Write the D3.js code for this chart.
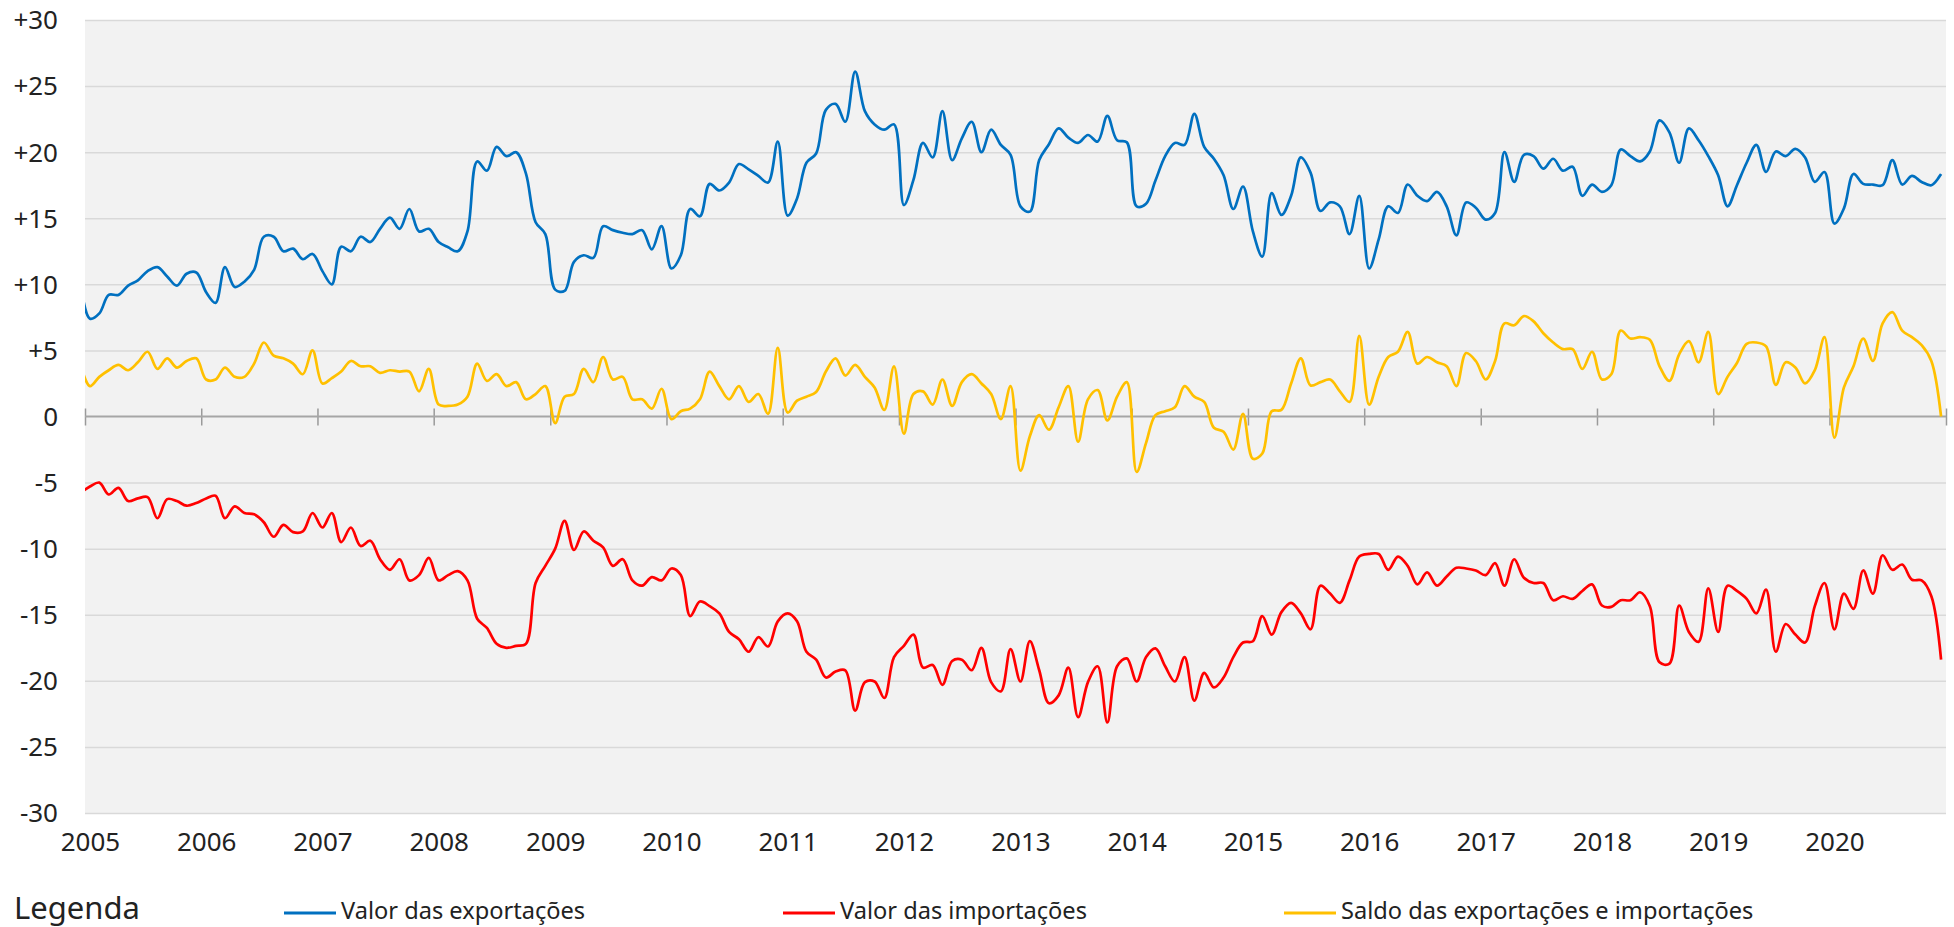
<!DOCTYPE html>
<html>
<head>
<meta charset="utf-8">
<script src="https://cdn.jsdelivr.net/npm/d3@7"></script>
<style>
  html, body { margin: 0; padding: 0; background: #fff; }
  svg { display: block; }
  text { font-family: "Noto Sans", "DejaVu Sans", sans-serif; fill: #222; }
</style>
</head>
<body>
<svg id="chart" width="1954" height="927"></svg>
<script>
// ---- Data (first value = Dec 2004, then Jan 2005 ... Dec 2020) ----
const exportsValues = [10.2,
  7.4, 7.8, 9.2, 9.2, 9.9, 10.3, 11.0, 11.3, 10.6, 9.9, 10.8, 10.9,
  9.4, 8.6, 11.3, 9.8, 10.2, 11.1, 13.6, 13.6, 12.5, 12.7, 11.9, 12.3,
  11.0, 10.0, 12.85, 12.5, 13.6, 13.2, 14.2, 15.05, 14.2, 15.7, 14.0, 14.2,
  13.2, 12.8, 12.5, 14.0, 19.3, 18.6, 20.4, 19.7, 20.0, 18.4, 14.7, 13.8,
  9.6, 9.5, 11.7, 12.2, 12.0, 14.4, 14.1, 13.9, 13.8, 14.1, 12.65, 14.4,
  11.2, 12.2, 15.7, 15.15, 17.6, 17.1, 17.7, 19.1, 18.7, 18.2, 17.7, 20.8,
  15.2, 16.5, 19.2, 19.9, 23.2, 23.65, 22.3, 26.1, 23.1, 22.1, 21.7, 22.1,
  16.0, 17.9, 20.7, 19.6, 23.1, 19.4, 21.05, 22.3, 20.0, 21.7, 20.55, 19.8,
  15.9, 15.5, 19.4, 20.6, 21.8, 21.1, 20.7, 21.3, 20.8, 22.75, 20.9, 20.75,
  15.9, 16.1, 17.85, 19.7, 20.7, 20.55, 22.9, 20.4, 19.5, 18.25, 15.7, 17.4,
  14.0, 12.1, 16.9, 15.25, 16.7, 19.6, 18.45, 15.55, 16.2, 15.9, 13.8, 16.7,
  11.2, 13.4, 15.9, 15.4, 17.55, 16.7, 16.3, 17.0, 15.9, 13.7, 16.2, 15.8,
  14.9, 15.4, 20.0, 17.75, 19.8, 19.7, 18.75, 19.5, 18.6, 18.9, 16.7, 17.55,
  17.0, 17.5, 20.2, 19.7, 19.3, 20.05, 22.4, 21.5, 19.2, 21.8, 20.9, 19.7,
  18.25, 15.9, 17.5, 19.2, 20.55, 18.5, 20.05, 19.7, 20.25, 19.6, 17.75, 18.5,
  14.6, 15.75, 18.35, 17.6, 17.55, 17.5, 19.4, 17.55, 18.2, 17.75, 17.5, 18.35
];
const importsValues = [-5.8,
  -5.3, -5.0, -5.9, -5.4, -6.4, -6.2, -6.1, -7.7, -6.25, -6.4, -6.75, -6.55,
  -6.2, -6.0, -7.7, -6.8, -7.3, -7.4, -8.0, -9.1, -8.2, -8.75, -8.7, -7.3,
  -8.4, -7.3, -9.5, -8.4, -9.8, -9.4, -10.8, -11.6, -10.8, -12.4, -12.0, -10.7,
  -12.4, -12.0, -11.7, -12.4, -15.3, -16.0, -17.2, -17.5, -17.35, -17.2, -12.6, -11.3,
  -10.0, -7.9, -10.1, -8.7, -9.4, -9.9, -11.3, -10.8, -12.4, -12.8, -12.15, -12.4,
  -11.5, -12.0, -15.1, -14.0, -14.35, -14.9, -16.3, -16.85, -17.8, -16.7, -17.4, -15.5,
  -14.9, -15.5, -17.8, -18.4, -19.75, -19.3, -19.2, -22.25, -20.1, -20.05, -21.3, -18.2,
  -17.35, -16.5, -19.0, -18.8, -20.3, -18.5, -18.4, -19.2, -17.5, -20.1, -20.8, -17.6,
  -20.05, -17.0, -19.2, -21.7, -21.1, -19.0, -22.75, -20.1, -18.9, -23.15, -18.9, -18.3,
  -20.05, -18.2, -17.55, -18.9, -20.05, -18.2, -21.5, -19.4, -20.5, -19.75, -18.2, -17.1,
  -17.0, -15.1, -16.5, -14.8, -14.1, -14.9, -16.1, -12.8, -13.4, -14.1, -12.4, -10.6,
  -10.4, -10.4, -11.6, -10.6, -11.3, -12.7, -11.8, -12.8, -12.1, -11.45, -11.5, -11.65,
  -12.0, -11.1, -12.8, -10.8, -12.2, -12.6, -12.6, -13.9, -13.6, -13.8, -13.2, -12.7,
  -14.3, -14.4, -13.9, -13.9, -13.3, -14.35, -18.6, -18.7, -14.3, -16.3, -17.05, -13.0,
  -16.3, -12.8, -13.2, -13.8, -14.9, -13.1, -17.8, -15.7, -16.5, -17.1, -14.35, -12.6,
  -16.1, -13.4, -14.55, -11.65, -13.4, -10.5, -11.6, -11.2, -12.35, -12.4, -13.6, -18.4
];
const balanceValues = [4.0,
  2.3, 3.0, 3.5, 3.9, 3.5, 4.1, 4.9, 3.6, 4.4, 3.7, 4.2, 4.4,
  2.8, 2.8, 3.7, 3.0, 3.0, 4.0, 5.6, 4.6, 4.4, 4.0, 3.2, 5.0,
  2.5, 2.9, 3.4, 4.2, 3.8, 3.8, 3.3, 3.5, 3.4, 3.4, 1.9, 3.6,
  0.9, 0.8, 0.9, 1.5, 4.0, 2.7, 3.2, 2.3, 2.6, 1.3, 1.7, 2.3,
  -0.5, 1.5, 1.7, 3.6, 2.6, 4.5, 2.8, 3.0, 1.3, 1.3, 0.6, 2.1,
  -0.2, 0.4, 0.6, 1.3, 3.4, 2.3, 1.3, 2.3, 1.1, 1.7, 0.2, 5.2,
  0.3, 1.2, 1.5, 1.85, 3.4, 4.4, 3.1, 3.9, 3.0, 2.2, 0.5, 3.8,
  -1.3, 1.7, 1.9, 0.9, 2.8, 0.8, 2.6, 3.2, 2.5, 1.7, -0.2, 2.3,
  -4.1, -1.5, 0.1, -1.0, 0.7, 2.3, -1.9, 1.3, 2.0, -0.3, 1.5, 2.6,
  -4.2, -2.0, 0.1, 0.4, 0.7, 2.3, 1.5, 1.1, -0.85, -1.15, -2.5, 0.2,
  -3.2, -2.8, 0.4, 0.5, 2.5, 4.4, 2.35, 2.6, 2.8, 1.9, 1.1, 6.1,
  0.9, 3.0, 4.5, 4.9, 6.4, 4.0, 4.5, 4.1, 3.8, 2.3, 4.8, 4.2,
  2.8, 4.2, 7.05, 6.9, 7.6, 7.2, 6.3, 5.6, 5.1, 5.1, 3.6, 4.9,
  2.8, 3.2, 6.5, 5.9, 6.0, 5.8, 3.8, 2.7, 4.7, 5.7, 4.1, 6.4,
  1.7, 3.0, 4.05, 5.5, 5.6, 5.3, 2.4, 4.1, 3.7, 2.5, 3.5, 6.0,
  -1.6, 2.2, 3.8, 5.9, 4.2, 7.05, 7.9, 6.5, 6.0, 5.4, 4.2, 0.0
];
const yearLabels = ["2005","2006","2007","2008","2009","2010","2011","2012",
                    "2013","2014","2015","2016","2017","2018","2019","2020"];
const yTickValues = [30, 25, 20, 15, 10, 5, 0, -5, -10, -15, -20, -25, -30];
const yTickLabels = ["+30","+25","+20","+15","+10","+5","0","-5","-10","-15","-20","-25","-30"];
const seriesNames = ["Valor das exportações", "Valor das importações", "Saldo das exportações e importações"];
const seriesColors = ["#0070c0", "#ff0000", "#ffc000"];
const legendTitle = "Legenda";

// ---- Layout ----
const L = 85, R = 1946, T = 20, B = 813;
const svg = d3.select("#chart");

const x = d3.scaleTime()
  .domain([new Date(2005, 0, 1), new Date(2021, 0, 1)])
  .range([L, R]);
const y = d3.scaleLinear().domain([-30, 30]).range([B, T]);

// month mid-points from Dec 2004 to Dec 2020
const monthStarts = d3.timeMonth.range(new Date(2004, 11, 1), new Date(2021, 0, 1));
const monthMids = monthStarts.map(d => new Date((+d + +d3.timeMonth.offset(d, 1)) / 2));

// background
svg.append("rect").attr("x", L).attr("y", T).attr("width", R - L).attr("height", B - T)
  .attr("fill", "#f2f2f2");

// gridlines
const grid = svg.append("g").attr("transform", `translate(${L},0)`)
  .call(d3.axisLeft(y).tickValues(yTickValues.filter(v => v !== 0)).tickSize(-(R - L)).tickFormat(""));
grid.select(".domain").remove();
grid.selectAll(".tick line").attr("stroke", "#d9d9d9").attr("stroke-width", 1.5);

// y labels
const yAxis = svg.append("g").attr("transform", `translate(${L},0)`)
  .call(d3.axisLeft(y).tickValues(yTickValues).tickSize(0).tickPadding(27)
    .tickFormat((d, i) => yTickLabels[i]));
yAxis.select(".domain").remove();
yAxis.selectAll("text").style("font-size", "26px").attr("fill", "#222")
  .style("font-family", '"Noto Sans", sans-serif').attr("dy", "0.34em");

// zero axis with tick marks
const yearStarts = d3.timeYear.range(new Date(2005, 0, 1), new Date(2022, 0, 1)).slice(0, 17);
const zeroAxis = svg.append("g").attr("transform", `translate(0,${y(0) - 8})`)
  .call(d3.axisBottom(x).tickValues(yearStarts).tickSize(17).tickFormat(""));
zeroAxis.select(".domain").remove();
zeroAxis.selectAll(".tick line").attr("stroke", "#9a9a9a").attr("stroke-width", 1.5);
svg.append("line").attr("x1", L).attr("x2", R).attr("y1", y(0)).attr("y2", y(0))
  .attr("stroke", "#a6a6a6").attr("stroke-width", 2);

// x labels (centered on the January point of each year)
const labelDates = yearLabels.map((s, i) => monthMids[1 + i * 12]);
const xAxis = svg.append("g").attr("transform", `translate(0,${B})`)
  .call(d3.axisBottom(x).tickValues(labelDates).tickSize(0).tickPadding(20)
    .tickFormat((d, i) => yearLabels[i]));
xAxis.select(".domain").remove();
xAxis.selectAll("text").style("font-size", "26px").attr("fill", "#222")
  .style("font-family", '"Noto Sans", sans-serif');

// clip
svg.append("clipPath").attr("id", "plotClip").append("rect")
  .attr("x", L).attr("y", T - 5).attr("width", R - L).attr("height", B - T + 10);

const line = d3.line()
  .x((d, i) => x(monthMids[i]))
  .y(d => y(d))
  .curve(d3.curveCatmullRom.alpha(0.5));

const seriesData = [exportsValues, importsValues, balanceValues];
svg.append("g").attr("clip-path", "url(#plotClip)")
  .selectAll("path").data(seriesData).join("path")
  .attr("d", d => line(d))
  .attr("fill", "none")
  .attr("stroke", (d, i) => seriesColors[i])
  .attr("stroke-width", 2.7)
  .attr("stroke-linejoin", "round");

// legend
svg.append("text").attr("x", 14).attr("y", 919).text(legendTitle)
  .style("font-size", "31px");
const legendX = [284, 783, 1284];
const lg = svg.append("g").selectAll("g").data(seriesNames).join("g")
  .attr("transform", (d, i) => `translate(${legendX[i]},0)`);
lg.append("line").attr("x1", 0).attr("x2", 52).attr("y1", 913).attr("y2", 913)
  .attr("stroke", (d, i) => seriesColors[i]).attr("stroke-width", 3);
lg.append("text").attr("x", 57).attr("y", 919).text(d => d).style("font-size", "23.6px");
</script>
</body>
</html>
